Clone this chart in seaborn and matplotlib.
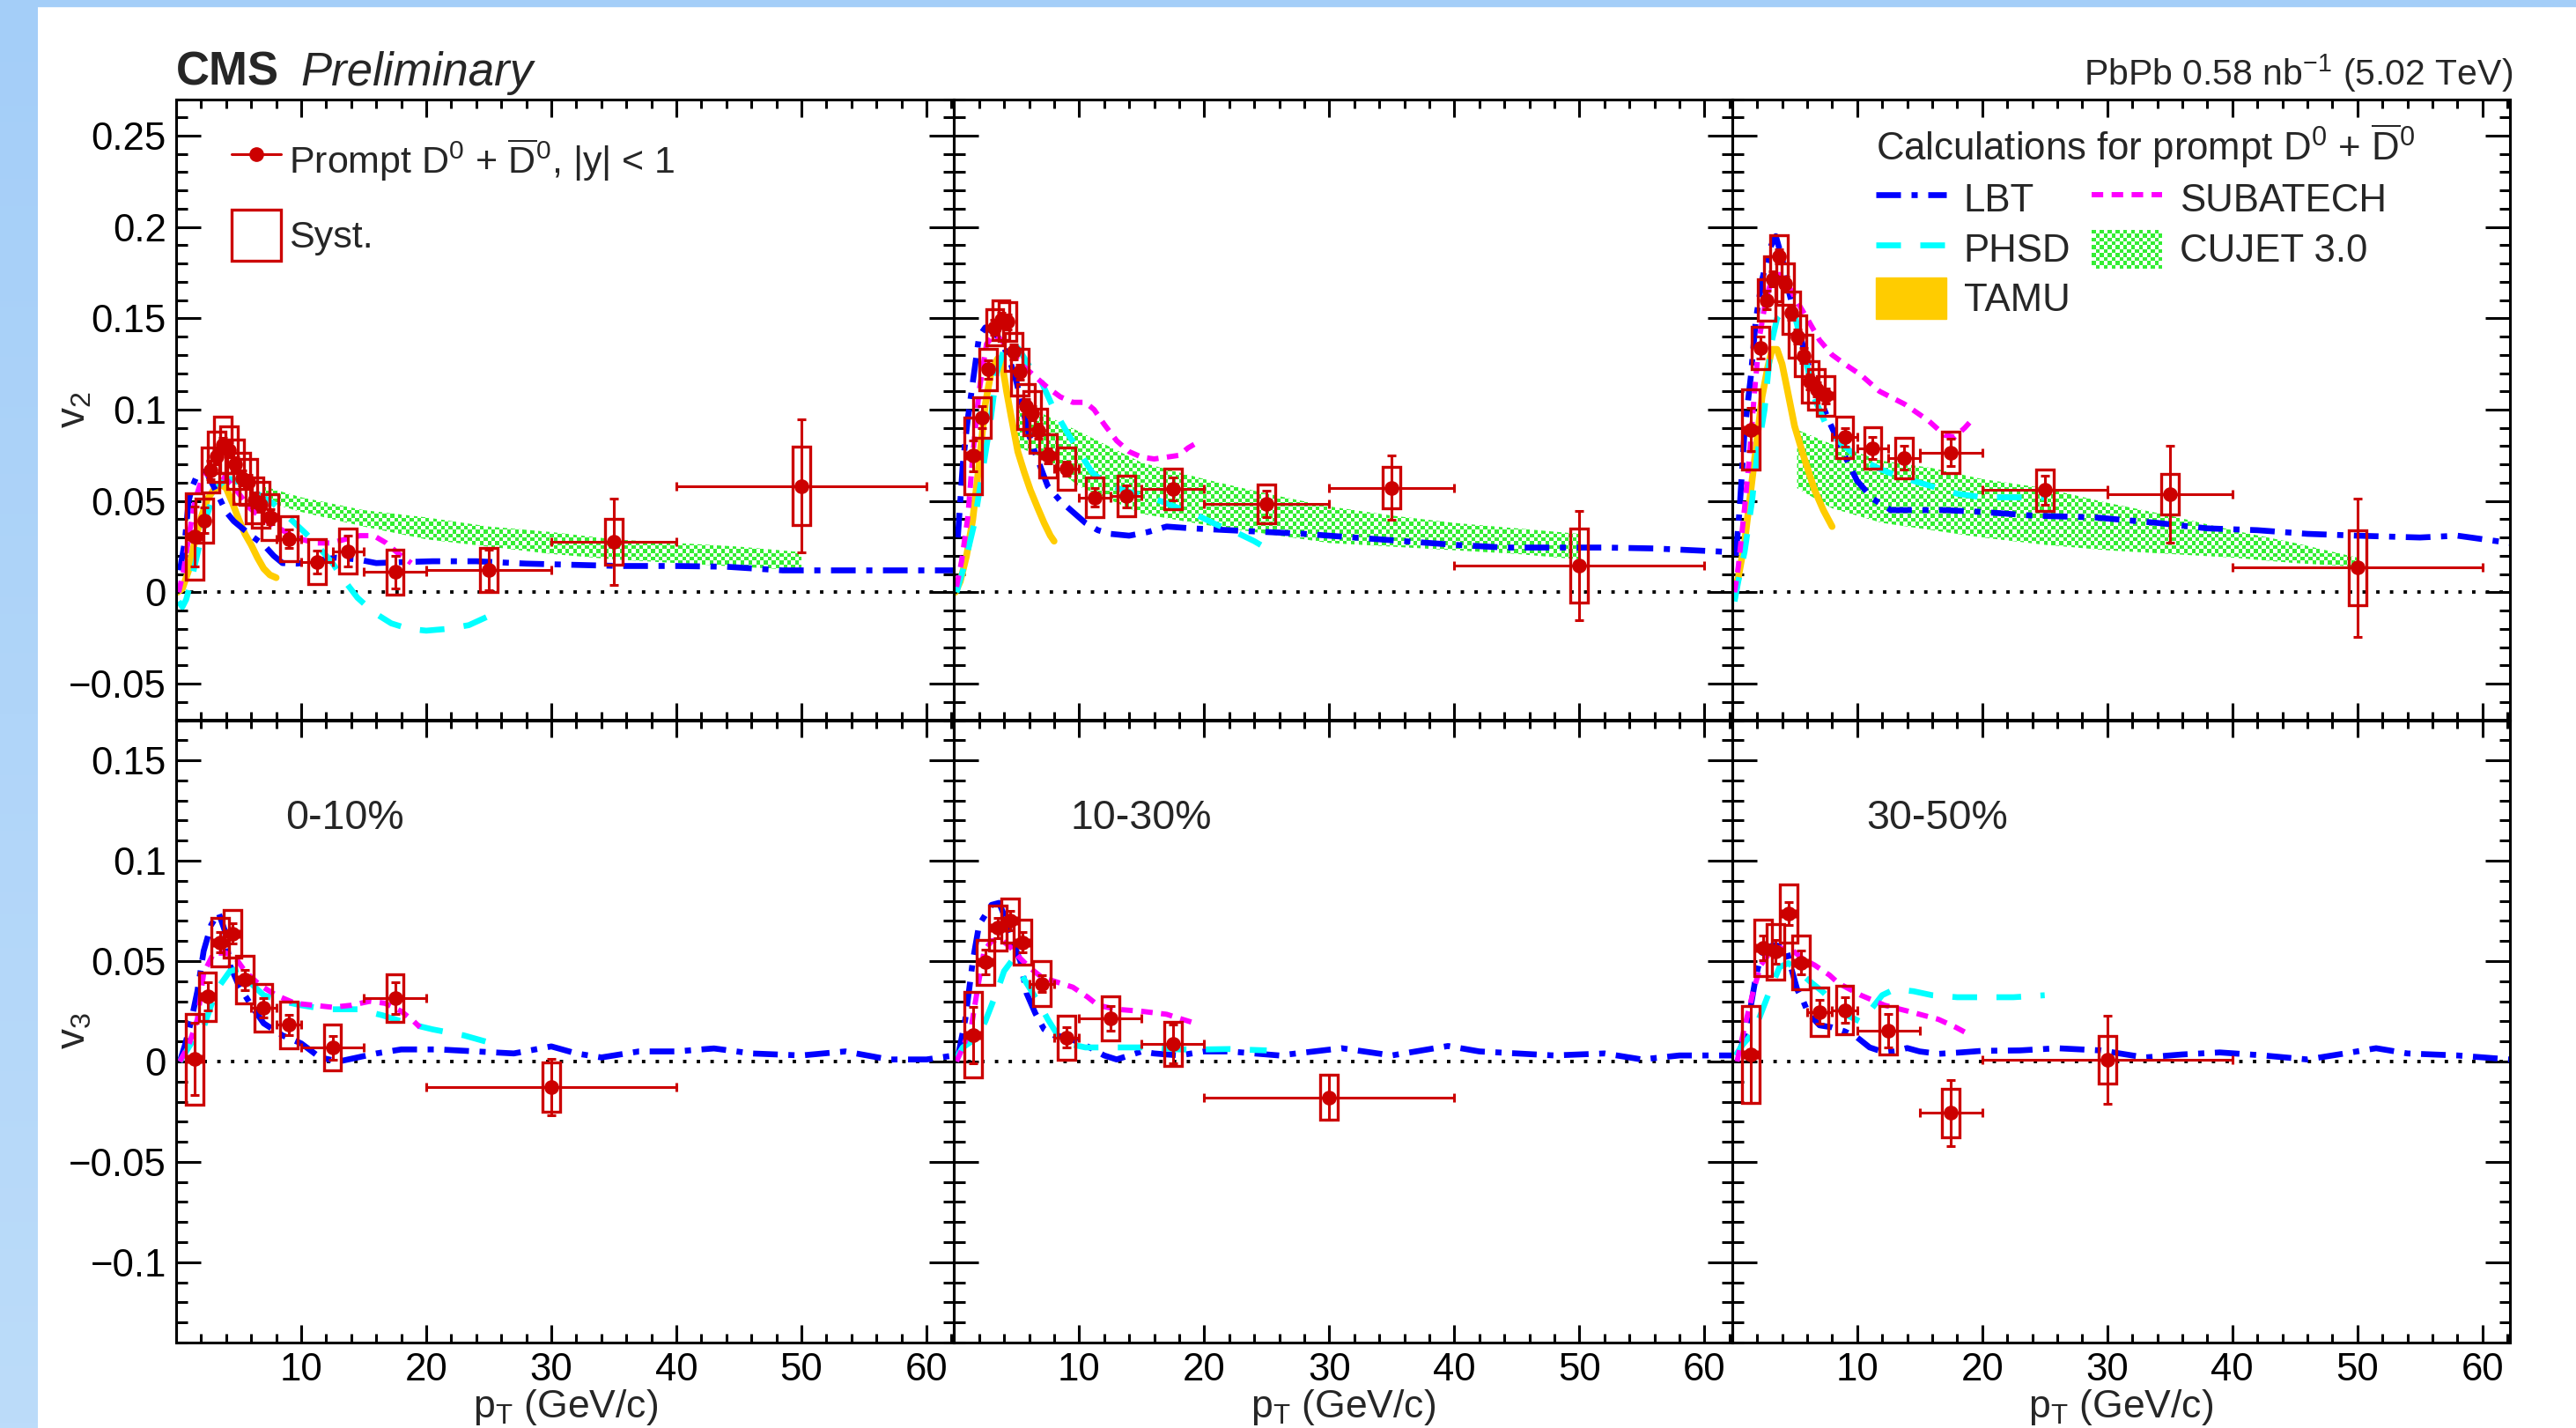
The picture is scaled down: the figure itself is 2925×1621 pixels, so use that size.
import numpy as np
import matplotlib
matplotlib.use('Agg')
import matplotlib.pyplot as plt
import seaborn as sns
from matplotlib.patches import Rectangle, Patch
from matplotlib.path import Path
from matplotlib.lines import Line2D
from matplotlib.legend_handler import HandlerBase
from matplotlib.colors import ListedColormap, LinearSegmentedColormap
from matplotlib.ticker import MultipleLocator, FuncFormatter

# ---------------- measured points ----------------
centralities = ['0-10%', '10-30%', '30-50%']

v2_pt = [1.5, 2.25, 2.75, 3.25, 3.75, 4.25, 4.75, 5.25, 5.75, 6.25, 6.75, 7.5, 9, 11.25, 13.75, 17.5, 25, 35, 50]
v2_pt_err = [0.5, 0.25, 0.25, 0.25, 0.25, 0.25, 0.25, 0.25, 0.25, 0.25, 0.25, 0.5, 1, 1.25, 1.25, 2.5, 5, 5, 10]

v2_010 = [0.0306, 0.0393, 0.0668, 0.0742, 0.0808, 0.078, 0.070, 0.0625, 0.0604, 0.0505, 0.048, 0.0413, 0.0293, 0.0167, 0.0224, 0.0112, 0.0122, 0.0277, 0.0582]
v2_010_stat = [0.0165, 0.007, 0.005, 0.004, 0.004, 0.004, 0.004, 0.004, 0.004, 0.004, 0.004, 0.004, 0.005, 0.0062, 0.0084, 0.0089, 0.011, 0.0236, 0.0365]
v2_010_syst = [0.0236, 0.012, 0.0123, 0.0136, 0.0154, 0.0126, 0.0134, 0.0139, 0.0127, 0.0126, 0.0124, 0.0125, 0.0123, 0.0122, 0.0123, 0.0123, 0.0122, 0.0124, 0.0216]

v2_1030 = [0.0747, 0.0957, 0.122, 0.145, 0.149, 0.148, 0.1317, 0.1205, 0.1018, 0.098, 0.0883, 0.0747, 0.0676, 0.052, 0.0527, 0.0566, 0.0484, 0.0572, 0.0147]
v2_1030_stat = [0.0084, 0.006, 0.005, 0.004, 0.004, 0.004, 0.004, 0.004, 0.004, 0.004, 0.004, 0.004, 0.004, 0.005, 0.006, 0.0064, 0.007, 0.0176, 0.0298]
v2_1030_syst = [0.0208, 0.011, 0.0115, 0.0099, 0.0107, 0.0106, 0.0103, 0.0126, 0.0123, 0.012, 0.012, 0.0116, 0.0115, 0.011, 0.011, 0.0112, 0.0108, 0.0113, 0.0204]

v2_3050 = [0.0891, 0.1338, 0.160, 0.1716, 0.184, 0.1688, 0.153, 0.140, 0.1296, 0.1152, 0.111, 0.1075, 0.0849, 0.079, 0.0736, 0.0766, 0.0559, 0.0537, 0.0135]
v2_3050_stat = [0.012, 0.006, 0.005, 0.004, 0.004, 0.004, 0.004, 0.004, 0.004, 0.004, 0.004, 0.004, 0.005, 0.006, 0.0065, 0.0076, 0.008, 0.0264, 0.038]
v2_3050_syst = [0.022, 0.0115, 0.0114, 0.0124, 0.0114, 0.0112, 0.0115, 0.0114, 0.0114, 0.0114, 0.0112, 0.0108, 0.0112, 0.0112, 0.011, 0.0112, 0.0113, 0.011, 0.0204]

v3_pt = [1.5, 2.5, 3.5, 4.5, 5.5, 7, 9, 12.5, 17.5, 30]
v3_pt_err = [0.5, 0.5, 0.5, 0.5, 0.5, 1, 1, 2.5, 2.5, 10]

v3_010 = [0.0011, 0.0324, 0.0593, 0.0637, 0.0407, 0.0267, 0.0182, 0.0069, 0.0315, -0.0126]
v3_010_stat = [0.018, 0.007, 0.005, 0.005, 0.005, 0.005, 0.005, 0.006, 0.008, 0.014]
v3_010_syst = [0.0225, 0.0121, 0.012, 0.0118, 0.0118, 0.0117, 0.0117, 0.0115, 0.0117, 0.0123]

v3_1030 = [0.0133, 0.0495, 0.0666, 0.0702, 0.0594, 0.0388, 0.0119, 0.0214, 0.0086, -0.0178]
v3_1030_stat = [0.014, 0.006, 0.005, 0.005, 0.005, 0.004, 0.005, 0.006, 0.0097, 0.011]
v3_1030_syst = [0.0212, 0.0112, 0.0112, 0.0108, 0.0113, 0.0112, 0.011, 0.011, 0.011, 0.0111]

v3_3050 = [0.0035, 0.0565, 0.0547, 0.0737, 0.0493, 0.0247, 0.0256, 0.0155, -0.0256, 0.0008]
v3_3050_stat = [0.024, 0.006, 0.006, 0.0055, 0.006, 0.006, 0.0065, 0.0083, 0.0164, 0.0218]
v3_3050_syst = [0.024, 0.0139, 0.0139, 0.0143, 0.0133, 0.012, 0.0119, 0.012, 0.0121, 0.012]

# ---------------- model calculations, v2 ----------------
lbt_v2_010_pt = [0.3, 0.7, 1.0, 1.3, 1.8, 2.4, 3.0, 3.5, 4.0, 4.6, 5.3, 6.2, 7.0, 7.8, 8.5, 9.7, 11.0, 12.8, 14.5, 16.0, 18.0, 20.5, 24.0, 28.0, 32.0, 35.5, 40.0, 44.0, 48.5, 55.0, 62.2]
lbt_v2_010 = [0.012, 0.028, 0.05, 0.058, 0.066, 0.066, 0.058, 0.051, 0.044, 0.039, 0.035, 0.030, 0.026, 0.020, 0.016, 0.0157, 0.017, 0.019, 0.018, 0.016, 0.0165, 0.017, 0.017, 0.0157, 0.015, 0.0144, 0.0144, 0.014, 0.012, 0.012, 0.012]
lbt_v2_1030_pt = [0.3, 0.7, 1.1, 1.5, 2.0, 2.5, 3.0, 3.5, 4.0, 4.5, 5.0, 5.5, 6.0, 6.5, 7.5, 8.5, 9.5, 10.5, 11.5, 12.5, 14.0, 15.5, 17.0, 19.0, 22.0, 25.0, 28.0, 32.0, 36.0, 40.0, 44.0, 48.0, 52.0, 56.0, 62.2]
lbt_v2_1030 = [0.03, 0.07, 0.095, 0.115, 0.14, 0.145, 0.143, 0.14, 0.134, 0.126, 0.115, 0.1, 0.086, 0.076, 0.058, 0.05, 0.044, 0.038, 0.034, 0.032, 0.031, 0.033, 0.036, 0.035, 0.034, 0.033, 0.032, 0.030, 0.028, 0.026, 0.0245, 0.0245, 0.0245, 0.024, 0.022]
lbt_v2_3050_pt = [0.3, 0.6, 1.0, 1.5, 1.9, 2.4, 3.0, 3.5, 4.0, 4.5, 5.0, 5.9, 6.6, 7.8, 9.0, 10.0, 11.3, 12.7, 14.5, 17.0, 20.0, 24.0, 29.0, 34.0, 38.0, 42.0, 46.0, 50.0, 55.0, 58.0, 62.2]
lbt_v2_3050 = [0.02, 0.045, 0.088, 0.118, 0.149, 0.171, 0.188, 0.195, 0.183, 0.166, 0.152, 0.129, 0.113, 0.093, 0.075, 0.061, 0.051, 0.045, 0.045, 0.045, 0.044, 0.042, 0.041, 0.038, 0.035, 0.034, 0.032, 0.031, 0.030, 0.031, 0.027]

phsd_v2_010_pt = [0.2, 0.5, 0.8, 1.2, 1.6, 2.0, 2.5, 3.0, 3.5, 4.0, 4.5, 5.5, 6.5, 7.7, 9.0, 10.4, 11.5, 12.5, 13.5, 14.5, 15.8, 17.2, 18.6, 20.0, 21.7, 23.4, 25.0]
phsd_v2_010 = [-0.005, -0.008, -0.004, 0.006, 0.018, 0.03, 0.043, 0.053, 0.059, 0.062, 0.062, 0.058, 0.054, 0.049, 0.041, 0.032, 0.024, 0.016, 0.006, -0.003, -0.011, -0.017, -0.020, -0.021, -0.020, -0.018, -0.013]
phsd_v2_1030_pt = [0.2, 0.8, 1.6, 2.3, 2.9, 3.4, 4.0, 4.6, 5.2, 6.0, 7.0, 8.0, 9.0, 10.0, 11.0, 12.0, 13.5, 15.0, 16.5, 18.0, 19.5, 21.0, 22.5, 24.0, 25.0]
phsd_v2_1030 = [0.0, 0.014, 0.037, 0.067, 0.093, 0.12, 0.133, 0.137, 0.133, 0.124, 0.115, 0.1, 0.088, 0.077, 0.066, 0.06, 0.056, 0.053, 0.05, 0.046, 0.042, 0.037, 0.033, 0.028, 0.024]
phsd_v2_3050_pt = [0.2, 0.5, 1.0, 1.6, 2.0, 2.6, 3.1, 3.6, 4.2, 5.0, 5.8, 6.6, 7.5, 8.5, 9.5, 10.5, 12.0, 13.5, 15.0, 16.5, 18.0, 20.0, 22.0, 25.0]
phsd_v2_3050 = [-0.005, 0.006, 0.022, 0.05, 0.075, 0.1, 0.135, 0.15, 0.155, 0.152, 0.13, 0.106, 0.092, 0.083, 0.077, 0.072, 0.067, 0.063, 0.06, 0.057, 0.054, 0.052, 0.052, 0.052]

subatech_v2_010_pt = [0.2, 0.6, 1.0, 1.5, 2.0, 2.6, 3.3, 4.0, 4.8, 5.9, 7.0, 8.0, 9.0, 10.0, 11.2, 12.4, 13.5, 14.7, 15.8, 16.8, 17.8, 18.8]
subatech_v2_010 = [0.0, 0.012, 0.03, 0.05, 0.061, 0.066, 0.065, 0.062, 0.056, 0.046, 0.04, 0.036, 0.032, 0.029, 0.027, 0.027, 0.029, 0.031, 0.031, 0.027, 0.021, 0.016]
subatech_v2_1030_pt = [0.2, 0.6, 1.1, 1.5, 2.0, 2.6, 3.2, 3.8, 4.5, 5.5, 6.5, 7.5, 8.5, 9.5, 10.5, 11.2, 12.0, 13.0, 14.0, 15.0, 16.0, 17.0, 18.0, 18.7, 19.2]
subatech_v2_1030 = [0.003, 0.017, 0.041, 0.075, 0.11, 0.136, 0.141, 0.138, 0.132, 0.124, 0.118, 0.112, 0.107, 0.104, 0.104, 0.1, 0.092, 0.083, 0.077, 0.074, 0.073, 0.074, 0.075, 0.079, 0.081]
subatech_v2_3050_pt = [0.2, 0.5, 1.0, 1.4, 1.8, 2.2, 2.7, 3.2, 3.8, 4.5, 5.3, 6.0, 7.0, 8.0, 9.0, 10.3, 11.8, 13.8, 15.7, 17.0, 17.8, 18.6, 19.0]
subatech_v2_3050 = [0.0, 0.014, 0.046, 0.075, 0.11, 0.14, 0.16, 0.172, 0.174, 0.168, 0.158, 0.15, 0.138, 0.13, 0.125, 0.119, 0.11, 0.103, 0.094, 0.086, 0.085, 0.09, 0.093]

tamu_v2_010_pt = [0.1, 0.5, 1.0, 1.5, 2.0, 2.5, 3.0, 3.6, 4.0, 4.5, 5.0, 5.5, 6.0, 6.5, 7.0, 7.5, 8.0]
tamu_v2_010 = [0.0, 0.002, 0.012, 0.028, 0.041, 0.051, 0.056, 0.059, 0.057, 0.049, 0.04, 0.032, 0.026, 0.019, 0.013, 0.0095, 0.008]
tamu_v2_1030_pt = [0.1, 0.5, 1.0, 1.5, 2.0, 2.5, 3.0, 3.5, 3.8, 4.2, 4.6, 5.1, 5.6, 6.1, 6.7, 7.2, 7.7, 8.0]
tamu_v2_1030 = [0.0, 0.006, 0.02, 0.04, 0.07, 0.103, 0.122, 0.128, 0.127, 0.11, 0.095, 0.077, 0.066, 0.056, 0.046, 0.038, 0.031, 0.028]
tamu_v2_3050_pt = [0.1, 0.5, 1.0, 1.7, 2.4, 2.85, 3.2, 3.6, 4.0, 4.3, 5.0, 5.7, 6.6, 7.3, 8.0]
tamu_v2_3050 = [0.0, 0.008, 0.027, 0.067, 0.107, 0.123, 0.133, 0.133, 0.125, 0.115, 0.091, 0.075, 0.056, 0.045, 0.036]

cujet_v2_010_pt = [7, 10, 15, 20, 25, 30, 35, 40, 45, 50]
cujet_v2_010_hi = [0.058, 0.052, 0.045, 0.041, 0.036, 0.033, 0.029, 0.027, 0.025, 0.022]
cujet_v2_010_lo = [0.050, 0.044, 0.036, 0.029, 0.025, 0.021, 0.018, 0.016, 0.014, 0.012]
cujet_v2_1030_pt = [5, 7, 10, 15, 20, 25, 30, 35, 40, 45, 50]
cujet_v2_1030_hi = [0.10, 0.098, 0.088, 0.071, 0.062, 0.054, 0.047, 0.042, 0.038, 0.035, 0.032]
cujet_v2_1030_lo = [0.08, 0.074, 0.058, 0.043, 0.037, 0.032, 0.027, 0.025, 0.023, 0.021, 0.018]
cujet_v2_3050_pt = [5.2, 8, 12, 16, 20, 25, 30, 35, 40, 45, 50]
cujet_v2_3050_hi = [0.089, 0.081, 0.072, 0.068, 0.062, 0.057, 0.049, 0.042, 0.034, 0.027, 0.019]
cujet_v2_3050_lo = [0.057, 0.046, 0.038, 0.034, 0.030, 0.026, 0.023, 0.021, 0.019, 0.016, 0.014]

# ---------------- model calculations, v3 ----------------
lbt_v3_010_pt = [0.3, 0.7, 1.2, 1.7, 2.2, 2.8, 3.4, 3.9, 4.3, 5.0, 6.0, 7.0, 8.5, 10.0, 11.5, 13.0, 14.5, 16, 18, 21, 24, 27, 30, 32, 34, 37, 40, 43, 46, 50, 53.5, 57, 60, 62.2]
lbt_v3_010 = [0.0, 0.008, 0.02, 0.035, 0.055, 0.068, 0.074, 0.065, 0.048, 0.038, 0.028, 0.019, 0.013, 0.009, 0.002, 0.0, 0.002, 0.004, 0.006, 0.006, 0.005, 0.004, 0.0075, 0.004, 0.002, 0.005, 0.005, 0.0065, 0.004, 0.003, 0.005, 0.001, 0.001, 0.003]
lbt_v3_1030_pt = [0.3, 0.9, 1.5, 2.0, 3.0, 3.6, 4.2, 4.8, 5.3, 5.8, 6.5, 7.2, 8.0, 9.0, 10.0, 11.0, 12.0, 13.0, 14.0, 15.0, 16.0, 18.0, 20.0, 22.0, 26, 31, 35, 39.5, 42, 48, 52, 55, 58, 62.2]
lbt_v3_1030 = [0.002, 0.021, 0.05, 0.068, 0.078, 0.079, 0.07, 0.058, 0.05, 0.034, 0.024, 0.016, 0.013, 0.012, 0.0095, 0.0065, 0.003, 0.001, 0.003, 0.005, 0.004, 0.003, 0.005, 0.005, 0.003, 0.0066, 0.003, 0.0077, 0.005, 0.003, 0.004, 0.001, 0.003, 0.003]
lbt_v3_3050_pt = [0.3, 0.5, 0.9, 1.4, 1.9, 2.2, 2.7, 3.3, 4.3, 4.8, 5.2, 5.7, 6.1, 7.0, 8.0, 9.0, 10.0, 11.0, 12.2, 13.0, 14.0, 15.0, 16.5, 18.3, 20, 23, 26, 29.5, 33, 36, 39, 42.5, 46, 49, 51.5, 54, 58, 62.2]
lbt_v3_3050 = [0.003, 0.004, 0.01, 0.024, 0.042, 0.05, 0.056, 0.058, 0.057, 0.045, 0.036, 0.03, 0.024, 0.018, 0.017, 0.015, 0.012, 0.007, 0.0045, 0.005, 0.0067, 0.005, 0.0038, 0.0045, 0.0053, 0.0055, 0.0066, 0.0055, 0.002, 0.0035, 0.0045, 0.003, 0.001, 0.004, 0.0066, 0.004, 0.003, 0.001]

phsd_v3_010_pt = [0.3, 0.8, 1.5, 2.2, 2.8, 3.5, 4.3, 5.0, 5.8, 7.0, 8.5, 10.0, 12.0, 14.5, 16.5, 18.5, 20.5, 23.0, 25.0]
phsd_v3_010 = [0.0, 0.005, 0.012, 0.017, 0.028, 0.038, 0.045, 0.046, 0.04, 0.033, 0.03, 0.028, 0.026, 0.026, 0.023, 0.019, 0.016, 0.013, 0.0095]
phsd_v3_1030_pt = [0.2, 0.7, 1.4, 2.0, 2.5, 3.0, 3.5, 4.0, 4.6, 5.2, 6.0, 6.8, 7.5, 8.3, 9.0, 10.5, 12.0, 14.0, 16.0, 18.0, 20.0, 22.0, 25.0]
phsd_v3_1030 = [0.002, 0.007, 0.01, 0.014, 0.02, 0.028, 0.036, 0.045, 0.05, 0.045, 0.037, 0.029, 0.021, 0.013, 0.009, 0.007, 0.007, 0.007, 0.007, 0.006, 0.006, 0.0062, 0.0055]
phsd_v3_3050_pt = [0.3, 0.8, 1.5, 2.2, 3.0, 3.8, 4.5, 5.3, 6.2, 7.2, 8.2, 9.2, 10.2, 11.0, 12.0, 13.0, 14.5, 16.0, 18.0, 20.0, 22.5, 25.0]
phsd_v3_3050 = [0.003, 0.008, 0.013, 0.022, 0.035, 0.047, 0.049, 0.045, 0.04, 0.035, 0.029, 0.023, 0.02, 0.025, 0.033, 0.036, 0.035, 0.033, 0.032, 0.032, 0.032, 0.033]

subatech_v3_010_pt = [0.3, 1.0, 1.7, 2.2, 3.0, 4.0, 4.7, 5.5, 6.7, 8.0, 9.5, 11.0, 12.5, 14.0, 15.5, 16.7, 18.0, 19.0, 19.5]
subatech_v3_010 = [0.0, 0.008, 0.021, 0.044, 0.054, 0.054, 0.052, 0.045, 0.038, 0.033, 0.029, 0.028, 0.027, 0.028, 0.030, 0.029, 0.025, 0.02, 0.017]
subatech_v3_1030_pt = [0.2, 0.7, 1.4, 1.9, 2.4, 3.0, 3.7, 4.5, 5.2, 6.0, 7.0, 8.0, 9.5, 10.7, 11.5, 13.0, 15.0, 17.0, 18.0, 19.3]
subatech_v3_1030 = [0.0, 0.007, 0.018, 0.037, 0.055, 0.06, 0.061, 0.057, 0.052, 0.047, 0.042, 0.04, 0.037, 0.032, 0.028, 0.026, 0.025, 0.0235, 0.0215, 0.019]
subatech_v3_3050_pt = [0.4, 1.0, 1.7, 2.3, 3.0, 3.8, 4.7, 5.7, 6.6, 7.8, 8.5, 10.3, 12.2, 14.1, 16.5, 17.9, 18.8]
subatech_v3_3050 = [0.0, 0.017, 0.035, 0.048, 0.054, 0.0565, 0.056, 0.051, 0.048, 0.043, 0.039, 0.033, 0.028, 0.025, 0.021, 0.017, 0.014]

# ---------------- style ----------------
RED = '#cc0000'
BLUE = '#0000ff'
CYAN = '#00ffff'
MAGENTA = '#ff00ff'
YELLOW = '#ffcc00'
GREEN = '#33ee33'
LBT_LS = (0, (4.2, 1.8, 1.05, 1.8))
PHSD_LS = (0, (4.2, 3.3))
SUBA_LS = (0, (2.2, 1.6))
BOX_W = 1.4
XMAX = 62.2
W, H = 2925, 1621

sns.set_theme(style='ticks')
plt.rcParams['font.family'] = ['Liberation Sans', 'DejaVu Sans']
plt.rcParams['mathtext.default'] = 'regular'
plt.rcParams['axes.unicode_minus'] = True


class CheckerHandler(HandlerBase):
    def create_artists(self, legend, orig_handle, xdescent, ydescent, width, height, fontsize, trans):
        cell = 3.2
        arts = []
        for i in range(int(width // cell)):
            for j in range(int(height // cell)):
                if (i + j) % 2:
                    arts.append(Rectangle((-xdescent + i * cell, -ydescent + j * cell), cell, cell,
                                          facecolor=GREEN, edgecolor='none', transform=trans))
        return arts


def checker_band(ax, x, lo, hi, ylim):
    x = np.asarray(x, float)
    verts = np.column_stack([np.r_[x, x[::-1]], np.r_[hi, lo[::-1]]])
    path = Path(np.vstack([verts, verts[:1]]), closed=True)
    cells = (np.add.outer(np.arange(160), np.arange(200)) % 2).astype(float)
    cmap = ListedColormap([(1, 1, 1, 0), GREEN])
    im = ax.imshow(cells, cmap=cmap, extent=(0, XMAX, ylim[0], ylim[1]), aspect='auto',
                   interpolation='nearest', origin='lower', zorder=1)
    im.set_clip_path(path, ax.transData)


def curve(ax, x, y, color, ls, lw, z=3):
    sns.lineplot(x=x, y=y, ax=ax, color=color, linestyle=ls, linewidth=lw,
                 sort=False, estimator=None, zorder=z)


def points(ax, pt, pterr, val, stat, syst):
    for x, y, s in zip(pt, val, syst):
        ax.add_patch(Rectangle((x - BOX_W / 2, y - s), BOX_W, 2 * s, fill=False,
                               ec=RED, lw=2.4, joinstyle='miter', zorder=5))
    ax.errorbar(pt, val, yerr=stat, xerr=pterr, fmt='o', color=RED, ms=11,
                elinewidth=2.2, capsize=3.5, capthick=2.2, zorder=6)


fig = plt.figure(figsize=(W / 100, H / 100), dpi=100)
fig.patch.set_facecolor('white')

# light blue frame of the slide
edge = fig.add_axes([0, 0, 43 / W, 1], zorder=-5)
edge.imshow(np.linspace(0, 1, 256)[:, None], aspect='auto', origin='upper',
            cmap=LinearSegmentedColormap.from_list('edge', ['#a4cef8', '#bcdcfa']))
edge.axis('off')
fig.add_artist(Rectangle((0, 1 - 7 / H), 1, 7 / H, transform=fig.transFigure,
                         color='#a4cef8', zorder=-5))

lefts = [200, 1083.3, 1966.7]
pw = 883.3
rows = [(112.5, 817.5, (-0.07, 0.27)), (817.5, 1524, (-0.14, 0.17))]

v2_sets = [(v2_010, v2_010_stat, v2_010_syst), (v2_1030, v2_1030_stat, v2_1030_syst), (v2_3050, v2_3050_stat, v2_3050_syst)]
v3_sets = [(v3_010, v3_010_stat, v3_010_syst), (v3_1030, v3_1030_stat, v3_1030_syst), (v3_3050, v3_3050_stat, v3_3050_syst)]
lbt_v2 = [(lbt_v2_010_pt, lbt_v2_010), (lbt_v2_1030_pt, lbt_v2_1030), (lbt_v2_3050_pt, lbt_v2_3050)]
phsd_v2 = [(phsd_v2_010_pt, phsd_v2_010), (phsd_v2_1030_pt, phsd_v2_1030), (phsd_v2_3050_pt, phsd_v2_3050)]
suba_v2 = [(subatech_v2_010_pt, subatech_v2_010), (subatech_v2_1030_pt, subatech_v2_1030), (subatech_v2_3050_pt, subatech_v2_3050)]
tamu_v2 = [(tamu_v2_010_pt, tamu_v2_010), (tamu_v2_1030_pt, tamu_v2_1030), (tamu_v2_3050_pt, tamu_v2_3050)]
cujet_v2 = [(cujet_v2_010_pt, cujet_v2_010_lo, cujet_v2_010_hi), (cujet_v2_1030_pt, cujet_v2_1030_lo, cujet_v2_1030_hi),
            (cujet_v2_3050_pt, cujet_v2_3050_lo, cujet_v2_3050_hi)]
lbt_v3 = [(lbt_v3_010_pt, lbt_v3_010), (lbt_v3_1030_pt, lbt_v3_1030), (lbt_v3_3050_pt, lbt_v3_3050)]
phsd_v3 = [(phsd_v3_010_pt, phsd_v3_010), (phsd_v3_1030_pt, phsd_v3_1030), (phsd_v3_3050_pt, phsd_v3_3050)]
suba_v3 = [(subatech_v3_010_pt, subatech_v3_010), (subatech_v3_1030_pt, subatech_v3_1030), (subatech_v3_3050_pt, subatech_v3_3050)]

cent_x = [0.1404, 0.150, 0.173]
yfmt = FuncFormatter(lambda v, p: ('%g' % round(v, 3)).replace('-', '\u2212'))
xfmt = FuncFormatter(lambda v, p: '' if abs(v) < 1e-9 else '%g' % v)

axes = []
for r, (top, bot, ylim) in enumerate(rows):
    for c, l in enumerate(lefts):
        ax = fig.add_axes([l / W, 1 - bot / H, pw / W, (bot - top) / H])
        axes.append(ax)
        ax.set_facecolor('none')
        ax.grid(False)

        if r == 0:
            checker_band(ax, cujet_v2[c][0], np.array(cujet_v2[c][1]), np.array(cujet_v2[c][2]), ylim)
            curve(ax, tamu_v2[c][0], tamu_v2[c][1], YELLOW, '-', 5.5, z=2)
            curve(ax, lbt_v2[c][0], lbt_v2[c][1], BLUE, LBT_LS, 4.8)
            curve(ax, phsd_v2[c][0], phsd_v2[c][1], CYAN, PHSD_LS, 4.8)
            curve(ax, suba_v2[c][0], suba_v2[c][1], MAGENTA, SUBA_LS, 4.3)
            points(ax, v2_pt, v2_pt_err, *v2_sets[c])
        else:
            curve(ax, lbt_v3[c][0], lbt_v3[c][1], BLUE, LBT_LS, 4.8)
            curve(ax, phsd_v3[c][0], phsd_v3[c][1], CYAN, PHSD_LS, 4.8)
            curve(ax, suba_v3[c][0], suba_v3[c][1], MAGENTA, SUBA_LS, 4.3)
            points(ax, v3_pt, v3_pt_err, *v3_sets[c])
            ax.text(cent_x[c], 0.8246, centralities[c], transform=ax.transAxes,
                    fontsize=33.5, ha='left', va='baseline')

        ax.axhline(0, color='black', lw=2.8, ls=(0, (1.0, 3.0)), zorder=2)
        ax.set_xlim(0, XMAX)
        ax.set_ylim(*ylim)
        ax.set_xlabel('')
        ax.set_ylabel('')
        ax.xaxis.set_major_locator(MultipleLocator(10))
        ax.xaxis.set_minor_locator(MultipleLocator(2))
        ax.yaxis.set_major_locator(MultipleLocator(0.05))
        ax.yaxis.set_minor_locator(MultipleLocator(0.01))
        ax.xaxis.set_major_formatter(xfmt)
        ax.yaxis.set_major_formatter(yfmt)
        ax.tick_params(which='both', direction='in', top=True, right=True, bottom=True, left=True,
                       width=2.2, color='black', labelsize=31.5, labelcolor='black')
        ax.tick_params(axis='x', which='major', length=14.5, pad=8)
        ax.tick_params(axis='x', which='minor', length=7.5)
        ax.tick_params(axis='y', which='major', length=20, pad=8)
        ax.tick_params(axis='y', which='minor', length=9)
        ax.tick_params(labelleft=(c == 0), labelbottom=(r == 1))
        for sp in ax.spines.values():
            sp.set_visible(True)
            sp.set_linewidth(2.2)
            sp.set_color('black')
            sp.set_zorder(10)
        if r == 1:
            ax.text(0.5, (1524 - 1609) / (bot - top), 'p$_{T}$ (GeV/c)', transform=ax.transAxes,
                    fontsize=32, ha='center', va='baseline')

# legends
leg1 = axes[0].legend(
    [Line2D([], [], color=RED, marker='o', ms=11, lw=2.2), Patch(fill=False, ec=RED, lw=2.4)],
    ['Prompt D$^{0}$ + $\\overline{D}^{0}$, |y| < 1', 'Syst.'],
    loc='upper left', bbox_to_anchor=(0.0713, 0.9414), frameon=False, fontsize=31,
    handlelength=1.3, handleheight=1.7, handletextpad=0.22, labelspacing=0.6,
    borderpad=0, borderaxespad=0)

cujet_handle = Patch(facecolor='none', edgecolor='none')
leg2 = axes[2].legend(
    [Line2D([], [], color=BLUE, lw=4.8, ls=LBT_LS),
     Line2D([], [], color=CYAN, lw=4.8, ls=PHSD_LS),
     Patch(fc=YELLOW, ec=YELLOW),
     Line2D([], [], color=MAGENTA, lw=4.3, ls=SUBA_LS),
     cujet_handle],
    ['LBT', 'PHSD', 'TAMU', 'SUBATECH', 'CUJET 3.0'],
    ncol=2, loc='upper left', bbox_to_anchor=(0.185, 0.964), frameon=False,
    title='Calculations for prompt D$^{0}$ + $\\overline{D}^{0}$', title_fontsize=31.5, fontsize=31.5,
    alignment='left', handlelength=1.83, handleheight=1.25, handletextpad=0.45,
    columnspacing=0.55, labelspacing=0.22, borderpad=0, borderaxespad=0,
    handler_map={cujet_handle: CheckerHandler()})

# header texts and axis titles
fig.text(200 / W, 1 - 96.5 / H, 'CMS', fontsize=38, fontweight='bold', ha='left', va='baseline')
fig.text(341.6 / W, 1 - 96.5 / H, 'Preliminary', fontsize=38, fontstyle='italic', ha='left', va='baseline')
fig.text(2853 / W, 1 - 96.7 / H, 'PbPb 0.58 nb$^{-1}$ (5.02 TeV)', fontsize=29.5, ha='right', va='baseline')
fig.text(0.029, 1 - 465 / H, '$v_{2}$', fontsize=33, rotation=90, ha='center', va='center')
fig.text(0.029, 1 - 1170 / H, '$v_{3}$', fontsize=33, rotation=90, ha='center', va='center')

fig.savefig('out.png', dpi=100)
